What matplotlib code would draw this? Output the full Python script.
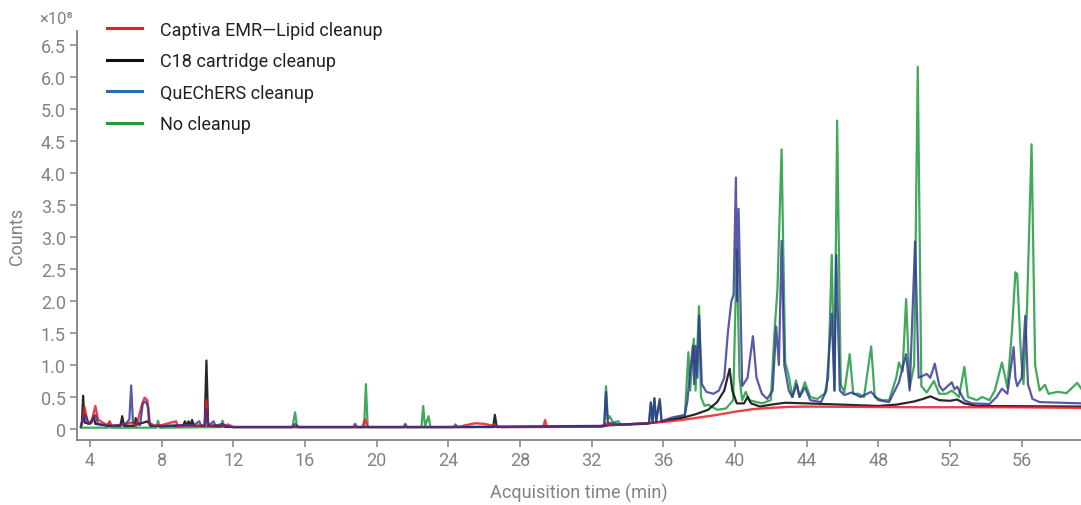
import matplotlib
matplotlib.use("Agg")
import matplotlib.pyplot as plt
from matplotlib.lines import Line2D

plt.rcParams['font.family'] = ['Roboto', 'DejaVu Sans']

# chromatogram traces, time (min) / counts (x1e8, positional scale of the axis)
red_t = [3.5, 3.6, 3.7, 3.8, 3.9, 4.1, 4.3, 4.45, 4.7, 5.0, 5.1, 5.2, 5.6, 6.0, 6.3, 6.6, 6.9, 7.05, 7.2, 7.3,
         7.6, 8.0, 8.8, 8.9, 9.5, 10.0, 10.4, 10.5, 10.6, 11.0, 11.5, 11.7, 12.0, 15.0, 19.2, 19.35, 19.5, 24.5,
         25.0, 25.5, 26.0, 26.5, 27.0, 29.3, 29.4, 29.5, 32.5, 32.9, 33.1, 34.0, 36.0, 37.0, 38.0, 39.0, 40.0,
         41.0, 42.0, 43.0, 44.0, 50.0, 55.0, 59.4]
red_v = [0.05, 0.15, 0.34, 0.2, 0.1, 0.12, 0.36, 0.15, 0.1, 0.06, 0.12, 0.05, 0.06, 0.08, 0.1, 0.05, 0.38, 0.49, 0.45, 0.1,
         0.05, 0.06, 0.12, 0.04, 0.06, 0.05, 0.05, 0.45, 0.05, 0.06, 0.05, 0.07, 0.03, 0.03, 0.03, 0.15, 0.03, 0.03,
         0.06, 0.09, 0.08, 0.05, 0.03, 0.03, 0.14, 0.03, 0.04, 0.09, 0.06, 0.07, 0.11, 0.14, 0.18, 0.22, 0.27,
         0.31, 0.33, 0.345, 0.35, 0.34, 0.34, 0.33]

black_t = [3.5, 3.55, 3.62, 3.7, 4.0, 4.2, 4.3, 5.0, 5.7, 5.8, 5.9, 6.5, 6.55, 6.7, 7.0, 7.2, 7.4, 9.2, 9.3, 9.4,
           9.5, 9.6, 9.7, 9.8, 10.4, 10.5, 10.6, 11.5, 12.0, 26.5, 26.6, 26.7, 32.5, 33.0, 35.0, 36.0, 37.0,
           37.8, 38.5, 39.0, 39.4, 39.7, 39.85, 40.1, 40.5, 40.7, 40.9, 41.4, 42.0, 42.8, 44.0, 46.0, 48.0,
           49.0, 50.0, 50.5, 50.9, 51.4, 52.0, 52.4, 52.8, 53.5, 59.4]
black_v = [0.04, 0.1, 0.52, 0.1, 0.08, 0.2, 0.08, 0.05, 0.05, 0.2, 0.05, 0.05, 0.17, 0.08, 0.1, 0.12, 0.05, 0.05, 0.12, 0.05,
           0.12, 0.05, 0.14, 0.05, 0.05, 1.07, 0.05, 0.04, 0.03, 0.03, 0.22, 0.03, 0.04, 0.06, 0.08, 0.12, 0.17,
           0.23, 0.3, 0.42, 0.6, 0.94, 0.6, 0.4, 0.4, 0.5, 0.4, 0.35, 0.38, 0.41, 0.4, 0.38, 0.36,
           0.38, 0.43, 0.47, 0.51, 0.45, 0.44, 0.46, 0.4, 0.36, 0.35]

blue_t = [3.5, 3.6, 3.75, 3.9, 4.1, 4.3, 4.45, 5.0, 5.5, 6.0, 6.2, 6.3, 6.4, 6.8, 6.95, 7.1, 7.25, 7.35, 8.0, 8.5,
          9.0, 9.8, 10.1, 10.2, 10.45, 10.5, 10.6, 10.9, 11.0, 11.4, 11.6, 12.0, 15.3, 15.45, 15.6, 18.7, 18.8,
          18.9, 21.5, 21.6, 21.7, 24.3, 24.4, 24.5, 32.7, 32.8, 32.9, 33.5, 35.2, 35.3, 35.4, 35.5, 35.6, 35.8,
          35.9, 36.5, 37.2, 37.35, 37.5, 37.65, 37.72, 37.8, 37.9, 38.0, 38.15, 38.4, 38.8, 39.1, 39.4, 39.6,
          39.8, 39.92, 40.05, 40.12, 40.2, 40.4, 40.7, 41.0, 41.2, 41.5, 41.8, 42.1, 42.3, 42.45, 42.6, 42.75,
          43.0, 43.2, 43.45, 43.6, 43.9, 44.2, 44.8, 45.1, 45.4, 45.55, 45.65, 45.85, 46.1, 46.5, 47.0, 47.6,
          48.0, 48.6, 49.15, 49.55, 49.75, 50.05, 50.25, 50.7, 50.9, 51.15, 51.4, 51.6, 52.1, 52.25, 52.4, 52.6,
          52.8, 53.2, 54.2, 54.6, 54.9, 55.2, 55.55, 55.65, 55.75, 56.0, 56.2, 56.35, 56.6, 57.0, 59.4]
blue_v = [0.04, 0.15, 0.22, 0.08, 0.1, 0.22, 0.08, 0.05, 0.05, 0.08, 0.15, 0.68, 0.1, 0.06, 0.4, 0.43, 0.35, 0.05, 0.04, 0.05,
          0.06, 0.06, 0.12, 0.05, 0.05, 0.32, 0.05, 0.12, 0.05, 0.08, 0.04, 0.03, 0.03, 0.08, 0.03, 0.03, 0.08,
          0.03, 0.03, 0.08, 0.03, 0.03, 0.07, 0.03, 0.05, 0.58, 0.1, 0.07, 0.09, 0.42, 0.1, 0.48, 0.12, 0.47,
          0.12, 0.18, 0.22, 0.45, 0.9, 1.3, 0.7, 1.3, 0.8, 1.77, 0.7, 0.58, 0.55, 0.6, 0.8, 1.5,
          2.0, 2.1, 3.93, 2.0, 3.44, 0.67, 0.8, 1.45, 0.8, 0.55, 0.47, 0.6, 1.6, 1.0, 2.94, 1.0,
          0.6, 0.5, 0.7, 0.5, 0.65, 0.45, 0.42, 0.6, 1.8, 0.6, 2.72, 0.6, 0.53, 0.57, 0.5, 0.58,
          0.45, 0.42, 0.73, 1.17, 0.6, 2.93, 0.8, 0.86, 0.8, 1.02, 0.68, 0.6, 0.73, 0.62, 0.66, 0.55,
          0.45, 0.4, 0.39, 0.5, 0.63, 0.55, 1.28, 0.8, 0.67, 0.8, 1.77, 0.7, 0.47, 0.42, 0.4]

green_t = [3.5, 5.0, 5.05, 5.15, 7.7, 7.8, 7.9, 11.3, 11.4, 11.5, 15.3, 15.45, 15.55, 15.7, 19.3, 19.4, 19.5, 22.5,
           22.6, 22.7, 22.9, 23.0, 32.7, 32.8, 32.9, 33.0, 33.2, 33.5, 33.6, 35.2, 35.3, 35.4, 35.5, 35.6, 35.8,
           35.9, 36.5, 37.2, 37.4, 37.5, 37.7, 37.8, 37.99, 38.1, 38.3, 38.5, 39.0, 39.5, 39.9, 40.1, 40.25, 40.4,
           40.6, 40.8, 41.5, 42.0, 42.2, 42.37, 42.6, 42.8, 43.0, 43.2, 43.4, 43.6, 43.9, 44.2, 44.6, 45.0, 45.2,
           45.4, 45.55, 45.7, 45.9, 46.1, 46.4, 46.6, 46.9, 47.2, 47.6, 47.8, 48.2, 48.6, 49.0, 49.15, 49.35,
           49.55, 49.75, 50.0, 50.2, 50.4, 50.7, 51.1, 51.4, 51.8, 52.1, 52.5, 52.8, 53.0, 53.5, 53.8, 54.2,
           54.5, 54.9, 55.2, 55.45, 55.65, 55.75, 55.96, 56.1, 56.3, 56.55, 56.75, 57.0, 57.3, 57.5, 58.0, 58.5,
           59.1, 59.4]
green_v = [0.02, 0.02, 0.1, 0.02, 0.02, 0.13, 0.02, 0.03, 0.13, 0.03, 0.03, 0.26, 0.05, 0.03, 0.03, 0.7, 0.03, 0.03,
           0.36, 0.04, 0.2, 0.03, 0.04, 0.67, 0.15, 0.2, 0.1, 0.12, 0.07, 0.09, 0.4, 0.1, 0.48, 0.12, 0.45,
           0.12, 0.16, 0.2, 1.2, 0.6, 1.41, 0.6, 1.92, 0.5, 0.36, 0.38, 0.3, 0.32, 0.45, 2.8, 0.8, 0.45,
           0.58, 0.45, 0.4, 0.45, 1.5, 2.19, 4.37, 1.04, 0.83, 0.5, 0.76, 0.5, 0.73, 0.5, 0.47, 0.55, 0.8,
           2.72, 0.6, 4.82, 0.7, 0.57, 1.17, 0.55, 0.55, 0.5, 1.29, 0.5, 0.45, 0.45, 0.8, 1.04, 0.9,
           2.03, 0.65, 1.0, 5.66, 0.67, 0.57, 0.75, 0.55, 0.55, 0.6, 0.5, 0.97, 0.5, 0.45, 0.5, 0.45,
           0.6, 1.04, 0.65, 1.5, 2.45, 2.42, 1.14, 0.7, 1.9, 4.45, 1.0, 0.6, 0.69, 0.55, 0.58, 0.56,
           0.72, 0.6]

labels = ["Captiva EMR\u2014Lipid cleanup", "C18 cartridge cleanup", "QuEChERS cleanup", "No cleanup"]
ytick_pos = [0, 0.5, 1.0, 1.5, 2.0, 2.5, 3.0, 3.5, 4.0, 4.5, 5.0, 5.5, 6.0]
ytick_lab = ["0", "0.5", "1.0", "1.5", "2.0", "2.5", "3.0", "3.5", "4.0", "4.5", "5.0", "6.0", "6.5"]
xticks = [4, 8, 12, 16, 20, 24, 28, 32, 36, 40, 44, 48, 52, 56]

gray = "#808285"
c_red, c_black, c_blue, c_green = "#ed1c24", "#111111", "#2e3192", "#1f9a3e"
leg_blue = "#1f6fba"

fig = plt.figure(figsize=(10.81, 5.06), dpi=100)
ax = fig.add_axes([0.0712, 0.1285, 0.9288, 0.8083])

ax.plot(green_t, green_v, color=c_green, lw=1.6, alpha=0.85)
ax.plot(black_t, black_v, color=c_black, lw=1.6, alpha=0.9)
ax.plot(red_t, red_v, color=c_red, lw=1.7, alpha=0.85)
ax.plot(blue_t, blue_v, color=c_blue, lw=1.6, alpha=0.8)

ax.set_xlim(3.275, 59.31)
ax.set_ylim(-0.172, 6.22)
ax.set_xticks(xticks)
ax.set_yticks(ytick_pos)
ax.set_yticklabels(ytick_lab)
for s in ["top", "right"]:
    ax.spines[s].set_visible(False)
for s in ["left", "bottom"]:
    ax.spines[s].set_color(gray)
    ax.spines[s].set_linewidth(1.3)
ax.tick_params(colors=gray, labelsize=13, length=5, width=1.1, pad=3)

ax.set_ylabel("Counts", color=gray, fontsize=13, labelpad=11)
ax.set_xlabel("Acquisition time (min)", color=gray, fontsize=13, labelpad=10)
fig.text(0.036, 0.962, "\u00d710\u2078", color=gray, fontsize=12, va="center")

handles = [Line2D([], [], color=c, lw=2.2) for c in (c_red, c_black, leg_blue, c_green)]
leg = fig.legend(handles, labels, loc="upper left", bbox_to_anchor=(0.091, 0.975), frameon=False,
                 fontsize=13, handlelength=1.9, handletextpad=1.0, labelspacing=0.75, borderpad=0)
for t in leg.get_texts():
    t.set_color("#222222")

fig.savefig("out.png", dpi=100)
